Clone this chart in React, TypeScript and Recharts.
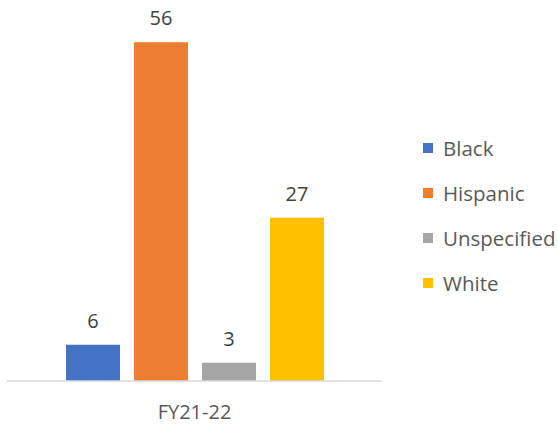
import { Bar, BarChart, LabelList, XAxis, YAxis } from "recharts";

const categories = ["FY21-22"];
const seriesNames = ["Black", "Hispanic", "Unspecified", "White"];
const seriesValues = [[6], [56], [3], [27]];
const seriesColors = ["#4472C4", "#ED7D31", "#A5A5A5", "#FFC000"];

const FONT = "'Open Sans', sans-serif";
const TEXT = "#595959";

const rows = categories.map((c, i) => {
  const r: any = { cat: c };
  seriesNames.forEach((s, j) => (r[s] = seriesValues[j][i]));
  return r;
});

export default function App() {
  return (
    <div style={{ position: "absolute", left: 0, top: 0, width: 558, height: 426, background: "#fff", fontFamily: FONT }}>
      <BarChart
        width={558}
        height={426}
        data={rows}
        margin={{ top: 18, right: 176, left: 7, bottom: 15 }}
        barSize={54}
        barGap={14}
      >
        <XAxis
          dataKey="cat"
          height={30}
          axisLine={{ stroke: "#d9d9d9", strokeWidth: 1.5 }}
          tickLine={false}
          tick={{ fontSize: 20, fill: TEXT, fontFamily: FONT }}
          tickMargin={18}
        />
        <YAxis hide domain={[0, 60]} />
        {seriesNames.map((s, j) => (
          <Bar key={s} dataKey={s} fill={seriesColors[j]} isAnimationActive={false}>
            <LabelList dataKey={s} position="top" offset={17} style={{ fontSize: 20, fill: "#404040", fontFamily: FONT }} />
          </Bar>
        ))}
      </BarChart>
      <div style={{ position: "absolute", left: 423, top: 136 }}>
        {seriesNames.map((s, j) => (
          <div key={s} style={{ display: "flex", alignItems: "center", height: 45 }}>
            <span style={{ width: 10, height: 10, background: seriesColors[j], marginRight: 10, marginTop: -22 }} />
            <span style={{ fontSize: 20.5, color: TEXT, lineHeight: "24px", marginTop: -22 }}>{s}</span>
          </div>
        ))}
      </div>
    </div>
  );
}
